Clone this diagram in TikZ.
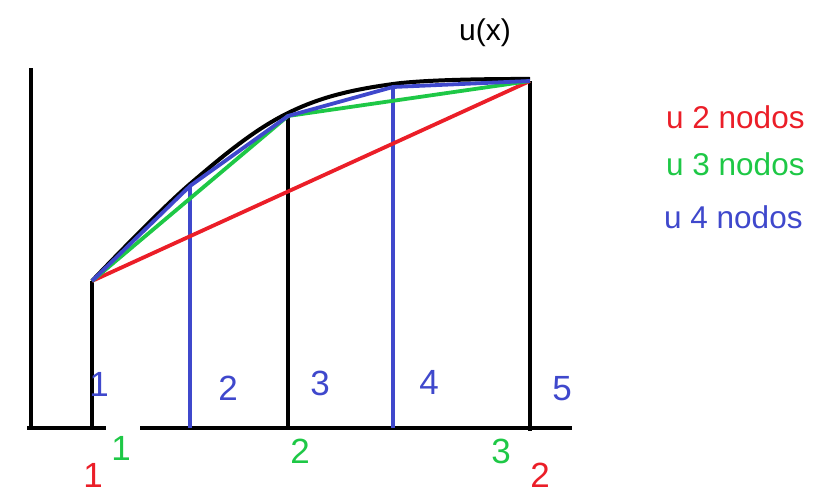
\documentclass[tikz,border=0pt]{standalone}
\usepackage{fontspec}
\setmainfont{Liberation Sans}
\definecolor{pred}{RGB}{235,30,40}
\definecolor{pgreen}{RGB}{30,200,70}
\definecolor{pblue}{RGB}{63,72,204}
\begin{document}
\begin{tikzpicture}[x=1pt,y=-1pt,
  axis/.style={line width=4.5pt,black},
  bline/.style={line width=4pt,pblue},
  poly/.style={line width=3.8pt,line join=round},
  num/.style={font=\fontsize{35}{40}\selectfont,inner sep=0pt},
  leg/.style={font=\fontsize{31.5}{36}\selectfont,inner sep=0pt,anchor=west}]
\useasboundingbox (0,0) rectangle (817,498);
% points on the curve
\coordinate (p1) at (92,281);
\coordinate (p2) at (190,186);
\coordinate (p3) at (288,116);
\coordinate (p4) at (393,87);
\coordinate (p5) at (530,81);
% base points
\coordinate (b1) at (92,428);
\coordinate (b2) at (190,428);
\coordinate (b3) at (288,428);
\coordinate (b4) at (393,428);
\coordinate (b5) at (530,428);
% axes
\draw[axis] (31,68) -- (31,430);
\draw[axis] (27,428) -- (106,428);
\draw[axis] (140,428) -- (572,428);
% verticals
\draw[axis] (p1) -- (b1);
\draw[axis] (p3) -- (b3);
\draw[axis] (p5) -- (530,431);
\draw[bline] (p2) -- (b2);
\draw[bline] (p4) -- (b4);
% exact curve
\draw[line width=4pt,black] plot[smooth,tension=0.6] coordinates {(92,281) (190,184) (288,113) (393,84) (530,79)};
% approximations
\draw[poly,pred] (p1) -- (p5);
\draw[poly,pgreen] (p1) -- (p3) -- (p5);
\draw[poly,pblue] (p1) -- (p2) -- (p3) -- (p4) -- (p5);
% labels
\node[font=\fontsize{30}{36}\selectfont,inner sep=0pt] (ux) at (485,33) {u(x)};
\node[leg,text=pred] (l2) at (666,117) {u 2 nodos};
\node[leg,text=pgreen] (l3) at (666,164) {u 3 nodos};
\node[leg,text=pblue] (l4) at (664,217) {u 4 nodos};
% blue numbers
\node[num,text=pblue] (n1) at (99,384) {1};
\node[num,text=pblue] (n2) at (228,388) {2};
\node[num,text=pblue] (n3) at (320,383) {3};
\node[num,text=pblue] (n4) at (429,382) {4};
\node[num,text=pblue] (n5) at (562,389) {5};
% green numbers
\node[num,text=pgreen] (g1) at (121,448) {1};
\node[num,text=pgreen] (g2) at (300,451) {2};
\node[num,text=pgreen] (g3) at (501,451) {3};
% red numbers
\node[num,text=pred] (r1) at (93,475) {1};
\node[num,text=pred] (r2) at (540,475) {2};
\end{tikzpicture}
\end{document}
